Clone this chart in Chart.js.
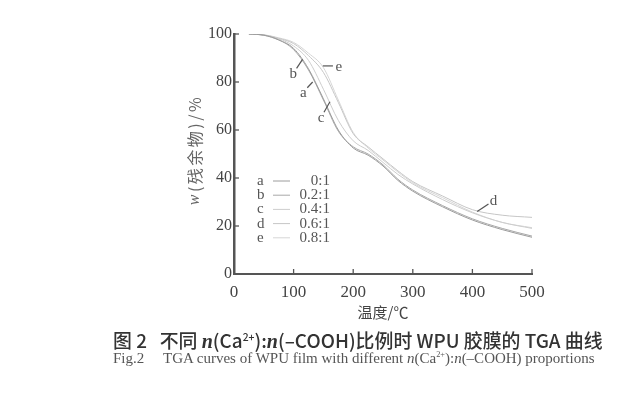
<!DOCTYPE html>
<html>
<head>
<meta charset="utf-8">
<script src="https://cdn.jsdelivr.net/npm/chart.js@4.4.1/dist/chart.umd.min.js"></script>
<style>
  body { margin: 0; background: #fff; }
  #wrap { position: relative; width: 641px; height: 398px; }
  #tgaChart { position: absolute; left: 0; top: 0; }
  .cap { position: absolute; left: 113px; white-space: nowrap; }
  #cap1 { top: 326px; font-family: "Noto Sans CJK SC", "Noto Sans", sans-serif; font-size: 18.9px; font-weight: 500; color: #333; }
  #cap1 .n { font-family: "Liberation Serif", serif; font-style: italic; font-weight: bold; font-size: 20px; }
  #cap2 { top: 350px; font-family: "Liberation Serif", serif; font-size: 15px; color: #555; }
  sup { font-size: 0.55em; vertical-align: 0.7em; line-height: 0; }
</style>
</head>
<body>
<div id="wrap">
  <canvas id="tgaChart" width="641" height="398"></canvas>
  <div class="cap" id="cap1">图 2&nbsp;&nbsp;&nbsp;不同 <span class="n">n</span>(Ca<sup>2+</sup>):<span class="n">n</span>(–COOH)比例时 WPU 胶膜的 TGA 曲线</div>
  <div class="cap" id="cap2">Fig.2&nbsp;&nbsp;&nbsp;&nbsp;&nbsp;TGA curves of WPU film with different <i>n</i>(Ca<sup>2+</sup>):<i>n</i>(–COOH) proportions</div>
</div>
<script>
// temperatures (°C) and residual mass (%)
const temps = [25, 50, 75, 100, 125, 150, 175, 200, 225, 250, 275, 300, 350, 400, 450, 500];
const curveA = [100, 99.5, 97.5, 94, 85.5, 73, 60, 52.5, 49.5, 45, 39, 34.5, 28, 22.5, 18.5, 15.3];
const curveB = [100, 99.5, 97.6, 93.5, 85, 72.5, 59.5, 53, 50, 45.5, 39.5, 35, 28.5, 23, 19, 15.8];
const curveC = [100, 99.6, 98, 95, 89, 77, 64, 55.5, 51.5, 46.5, 41.5, 37.5, 31, 25.5, 21.5, 19];
const curveD = [100, 99.6, 98.2, 96, 91, 84, 71.5, 58.5, 53, 48, 43, 38.5, 32.5, 26.8, 24.5, 23.6];
const curveE = [100, 99.7, 98.4, 96.5, 92, 86, 72.5, 59, 52.5, 47.5, 42.5, 38, 31.8, 25.8, 21.5, 19.3];

const seriesKeys = ['a', 'b', 'c', 'd', 'e'];
const seriesRatios = ['0:1', '0.2:1', '0.4:1', '0.6:1', '0.8:1'];
const xTicks = [0, 100, 200, 300, 400, 500];
const yTicks = [0, 20, 40, 60, 80, 100];

// curve labels with leader lines: [key, T from, w from, T to, w to]
const curveLabels = [
    ['b', 105, 85.7, 115, 89.4],
    ['a', 123, 77.6, 132, 80],
    ['c', 151, 67.4, 161, 71.8],
    ['e', 166, 86.7, 149, 86.7],
    ['d', 427, 29.2, 408, 26]
];

const lineColors = ['#9c9c9c', '#a8a8a8', '#cdcdcd', '#c6c6c6', '#d6d6d6'];
const allCurves = [curveA, curveB, curveC, curveD, curveE];

function toPoints(values) {
    return temps.map((t, i) => ({ x: t, y: values[i] }));
}

const axisColor = '#555';

const decorPlugin = {
    id: 'decor',
    afterDraw(chart) {
        const ctx = chart.ctx;
        const xs = chart.scales.x;
        const ys = chart.scales.y;
        const area = chart.chartArea;
        ctx.save();

        // inward ticks
        ctx.strokeStyle = axisColor;
        ctx.lineWidth = 1.3;
        xTicks.forEach(v => {
            if (v === 0) return;
            const px = xs.getPixelForValue(v);
            ctx.beginPath();
            ctx.moveTo(px, area.bottom);
            ctx.lineTo(px, area.bottom - 5);
            ctx.stroke();
        });
        yTicks.forEach(v => {
            if (v === 0) return;
            const py = ys.getPixelForValue(v);
            ctx.beginPath();
            ctx.moveTo(area.left, py);
            ctx.lineTo(area.left + 5, py);
            ctx.stroke();
        });

        // axis titles
        ctx.fillStyle = '#444';
        ctx.font = '15px "Noto Sans CJK SC"';
        ctx.textAlign = 'center';
        ctx.textBaseline = 'middle';
        ctx.fillText('温度/℃', (area.left + area.right) / 2, 312);

        ctx.save();
        ctx.translate(195, 150);
        ctx.rotate(-Math.PI / 2);
        ctx.textAlign = 'left';
        ctx.fillStyle = '#666';
        ctx.letterSpacing = '2.5px';
        const t1 = 'w';
        const t2 = '(残余物)/%';
        ctx.font = 'italic 16px "Liberation Serif"';
        const w1 = ctx.measureText(t1).width;
        ctx.font = '16px "Noto Sans CJK SC"';
        const w2 = ctx.measureText(t2).width;
        const start = -(w1 + w2) / 2;
        ctx.font = 'italic 16px "Liberation Serif"';
        ctx.fillText(t1, start, 0);
        ctx.font = '16px "Noto Sans CJK SC"';
        ctx.fillText(t2, start + w1, 0);
        ctx.restore();

        // legend
        ctx.font = '15px "Liberation Serif"';
        seriesKeys.forEach((k, i) => {
            const y = 181 + i * 14.2;
            ctx.fillStyle = '#555';
            ctx.textAlign = 'left';
            ctx.fillText(k, 257, y);
            ctx.strokeStyle = lineColors[i];
            ctx.lineWidth = 1;
            ctx.beginPath();
            ctx.moveTo(273, y);
            ctx.lineTo(290, y);
            ctx.stroke();
            ctx.textAlign = 'right';
            ctx.fillText(seriesRatios[i], 330, y);
        });

        // curve labels
        ctx.strokeStyle = '#555';
        ctx.lineWidth = 1.2;
        curveLabels.forEach(([k, t0, w0, t1b, w1b]) => {
            const x0 = xs.getPixelForValue(t0), y0 = ys.getPixelForValue(w0);
            const x1 = xs.getPixelForValue(t1b), y1 = ys.getPixelForValue(w1b);
            ctx.beginPath();
            ctx.moveTo(x0, y0);
            ctx.lineTo(x1, y1);
            ctx.stroke();
            ctx.fillStyle = '#555';
            ctx.textAlign = 'center';
            const dx = x0 - x1, dy = y0 - y1;
            const len = Math.hypot(dx, dy);
            ctx.fillText(k, x0 + dx / len * 6, y0 + dy / len * 6 + 1);
        });
        ctx.restore();
    }
};

function setupTgaChart() {
    const ctx = document.getElementById('tgaChart').getContext('2d');
    new Chart(ctx, {
        type: 'line',
        data: {
            datasets: allCurves.map((c, i) => ({
                label: seriesKeys[i],
                data: toPoints(c),
                borderColor: lineColors[i],
                borderWidth: 1,
                pointRadius: 0,
                fill: false,
                cubicInterpolationMode: 'monotone'
            }))
        },
        options: {
            responsive: false,
            animation: false,
            layout: { padding: { left: 0, top: 34, right: 109, bottom: 0 } },
            plugins: { legend: { display: false }, tooltip: { enabled: false } },
            scales: {
                x: {
                    type: 'linear',
                    min: 0,
                    max: 500,
                    afterFit: s => { s.height = 124; },
                    afterBuildTicks: s => { s.ticks = xTicks.map(v => ({ value: v })); },
                    grid: { display: false, drawTicks: false },
                    border: { color: axisColor, width: 2 },
                    ticks: {
                        padding: 8,
                        color: '#444',
                        font: { family: '"Liberation Serif"', size: 17 }
                    }
                },
                y: {
                    min: 0,
                    max: 100,
                    afterFit: s => { s.width = 234; },
                    afterBuildTicks: s => { s.ticks = yTicks.map(v => ({ value: v })); },
                    grid: { display: false, drawTicks: false },
                    border: { color: axisColor, width: 2.5 },
                    ticks: {
                        padding: 2,
                        color: '#444',
                        font: { family: '"Liberation Serif"', size: 16 }
                    }
                }
            }
        },
        plugins: [decorPlugin]
    });
}

setupTgaChart();
</script>
</body>
</html>
